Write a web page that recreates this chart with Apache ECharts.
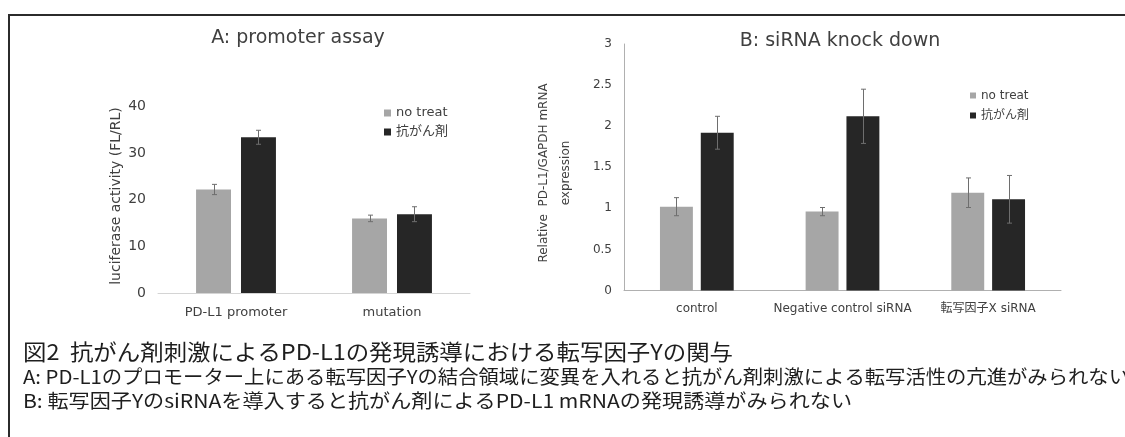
<!DOCTYPE html>
<html><head><meta charset="utf-8">
<script src="https://cdn.jsdelivr.net/npm/echarts@6/dist/echarts.min.js"></script>
<style>html,body{margin:0;padding:0;background:#fff}#c{width:1125px;height:437px}</style>
</head><body><div id="c"></div>
<script>
// ---- data ----
const seriesNames = ['no treat', '抗がん剤'];
const categoriesA = ['PD-L1 promoter', 'mutation'];
const noTreatA = [22.2, 16.0];
const drugA = [33.4, 16.9];
const errNoTreatA = [1.1, 0.7];
const errDrugA = [1.5, 1.6];
const categoriesB = ['control', 'Negative control siRNA', '転写因子X siRNA'];
const noTreatB = [1.02, 0.96, 1.19];
const drugB = [1.92, 2.12, 1.11];
const errNoTreatB = [0.11, 0.05, 0.18];
const errDrugB = [0.20, 0.33, 0.29];
const titleA = 'A: promoter assay';
const titleB = 'B: siRNA knock down';
const yNameA = 'luciferase activity (FL/RL)';
const yNameB1 = 'Relative  PD-L1/GAPDH mRNA';
const yNameB2 = 'expression';
const caption1 = '図2  抗がん剤刺激によるPD-L1の発現誘導における転写因子Yの関与';
const caption2 = 'A: PD-L1のプロモーター上にある転写因子Yの結合領域に変異を入れると抗がん剤刺激による転写活性の亢進がみられない';
const caption3 = 'B: 転写因子YのsiRNAを導入すると抗がん剤によるPD-L1 mRNAの発現誘導がみられない';

// ---- styles ----
const LATIN = '"DejaVu Sans", "Noto Sans CJK JP", sans-serif';
const CJK = '"Noto Sans CJK JP", sans-serif';
const GRAY = '#a6a6a6', DARK = '#262626';

function measure(text, font) {
  const ctx = document.createElement('canvas').getContext('2d');
  ctx.font = font;
  return ctx.measureText(text).width;
}
const cap1Font = '22px ' + CJK;
const cap23Font = '19px ' + CJK;
const s1 = 710 / measure(caption1, cap1Font);
const s2 = 1106 / measure(caption2, cap23Font);
const s3 = 829 / measure(caption3, cap23Font);

const barA = 0.224, gapA = 0.286;
const barB = 0.226, gapB = 0.24;

function errRender(side, barPct, gapPct) {
  return function (params, api) {
    const cat = api.value(0), v = api.value(1), e = api.value(2);
    const band = api.size([1, 0])[0];
    const w = band * barPct;
    const off = side * (w + w * gapPct) / 2;
    const p1 = api.coord([cat, v + e]);
    const p2 = api.coord([cat, v - e]);
    const x = Math.round(p1[0] + off) + 0.5;
    const c = 2.5;
    const st = { stroke: '#6e6e6e', lineWidth: 1 };
    return { type: 'group', children: [
      { type: 'line', shape: { x1: x, y1: p1[1], x2: x, y2: p2[1] }, style: st },
      { type: 'line', shape: { x1: x - c, y1: p1[1], x2: x + c, y2: p1[1] }, style: st },
      { type: 'line', shape: { x1: x - c, y1: p2[1], x2: x + c, y2: p2[1] }, style: st }
    ]};
  };
}

const chart = echarts.init(document.getElementById('c'));
chart.setOption({
  animation: false,
  backgroundColor: '#fff',
  grid: [
    { left: 158, top: 106.5, width: 312, height: 186.5 },
    { left: 624, top: 44, width: 437, height: 246.5 }
  ],
  xAxis: [
    { type: 'category', gridIndex: 0, data: categoriesA,
      axisLine: { lineStyle: { color: '#d4d4d4', width: 1 } }, axisTick: { show: false },
      axisLabel: { interval: 0, fontFamily: LATIN, fontSize: 13, color: '#404040', margin: 13 } },
    { type: 'category', gridIndex: 1, data: categoriesB,
      axisLine: { lineStyle: { color: '#b0b0b0', width: 1 } }, axisTick: { show: false },
      axisLabel: { interval: 0, fontFamily: LATIN, fontSize: 12, color: '#404040', margin: 12 } }
  ],
  yAxis: [
    { type: 'value', gridIndex: 0, min: 0, max: 40, interval: 10,
      axisLine: { show: false }, axisTick: { show: false }, splitLine: { show: false },
      axisLabel: { fontFamily: LATIN, fontSize: 14, color: '#404040', margin: 12 } },
    { type: 'value', gridIndex: 1, min: 0, max: 3, interval: 0.5,
      axisLine: { show: true, lineStyle: { color: '#b0b0b0', width: 1 } }, axisTick: { show: false }, splitLine: { show: false },
      axisLabel: { fontFamily: LATIN, fontSize: 12, color: '#404040', margin: 12 } }
  ],
  legend: [
    { data: seriesNames, orient: 'vertical', left: 379, top: 101, itemWidth: 7, itemHeight: 7, itemGap: 5,
      icon: 'rect', selectedMode: false, textStyle: { fontFamily: LATIN, fontSize: 13, color: '#404040', lineHeight: 14 } },
    { data: seriesNames, orient: 'vertical', left: 965, top: 84, itemWidth: 6, itemHeight: 6, itemGap: 7,
      icon: 'rect', selectedMode: false, textStyle: { fontFamily: LATIN, fontSize: 12, color: '#404040', lineHeight: 13 } }
  ],
  series: [
    { name: seriesNames[0], type: 'bar', xAxisIndex: 0, yAxisIndex: 0, data: noTreatA,
      barWidth: (barA * 100) + '%', barGap: (gapA * 100) + '%', itemStyle: { color: GRAY } },
    { name: seriesNames[1], type: 'bar', xAxisIndex: 0, yAxisIndex: 0, data: drugA,
      barWidth: (barA * 100) + '%', barGap: (gapA * 100) + '%', itemStyle: { color: DARK } },
    { type: 'custom', xAxisIndex: 0, yAxisIndex: 0, z: 5, renderItem: errRender(-1, barA, gapA),
      data: noTreatA.map((v, i) => [i, v, errNoTreatA[i]]) },
    { type: 'custom', xAxisIndex: 0, yAxisIndex: 0, z: 5, renderItem: errRender(1, barA, gapA),
      data: drugA.map((v, i) => [i, v, errDrugA[i]]) },
    { name: seriesNames[0], type: 'bar', xAxisIndex: 1, yAxisIndex: 1, data: noTreatB,
      barWidth: (barB * 100) + '%', barGap: (gapB * 100) + '%', itemStyle: { color: GRAY } },
    { name: seriesNames[1], type: 'bar', xAxisIndex: 1, yAxisIndex: 1, data: drugB,
      barWidth: (barB * 100) + '%', barGap: (gapB * 100) + '%', itemStyle: { color: DARK } },
    { type: 'custom', xAxisIndex: 1, yAxisIndex: 1, z: 5, renderItem: errRender(-1, barB, gapB),
      data: noTreatB.map((v, i) => [i, v, errNoTreatB[i]]) },
    { type: 'custom', xAxisIndex: 1, yAxisIndex: 1, z: 5, renderItem: errRender(1, barB, gapB),
      data: drugB.map((v, i) => [i, v, errDrugB[i]]) }
  ],
  graphic: [
    { type: 'rect', shape: { x: 9, y: 15, width: 1200, height: 500 },
      style: { fill: 'none', stroke: '#2b2b2b', lineWidth: 2 }, silent: true },
    { type: 'text', x: 298, y: 38, style: { text: titleA, font: '19px ' + LATIN, fill: '#404040', textAlign: 'center', textVerticalAlign: 'middle' } },
    { type: 'text', x: 840, y: 41, style: { text: titleB, font: '19px ' + LATIN, fill: '#404040', textAlign: 'center', textVerticalAlign: 'middle' } },
    { type: 'text', x: 116, y: 196, rotation: Math.PI / 2, style: { text: yNameA, font: '14px ' + LATIN, fill: '#404040', textAlign: 'center', textVerticalAlign: 'middle' } },
    { type: 'text', x: 544, y: 173, rotation: Math.PI / 2, style: { text: yNameB1, font: '12px ' + LATIN, fill: '#404040', textAlign: 'center', textVerticalAlign: 'middle' } },
    { type: 'text', x: 566, y: 173, rotation: Math.PI / 2, style: { text: yNameB2, font: '12px ' + LATIN, fill: '#404040', textAlign: 'center', textVerticalAlign: 'middle' } },
    { type: 'text', x: 23, y: 352, scaleX: s1, style: { text: caption1, font: cap1Font, fill: '#1e1e1e', textAlign: 'left', textVerticalAlign: 'middle' } },
    { type: 'text', x: 23, y: 377, scaleX: s2, style: { text: caption2, font: cap23Font, fill: '#1e1e1e', textAlign: 'left', textVerticalAlign: 'middle' } },
    { type: 'text', x: 23, y: 401, scaleX: s3, style: { text: caption3, font: cap23Font, fill: '#1e1e1e', textAlign: 'left', textVerticalAlign: 'middle' } }
  ]
});
</script>
</body></html>
